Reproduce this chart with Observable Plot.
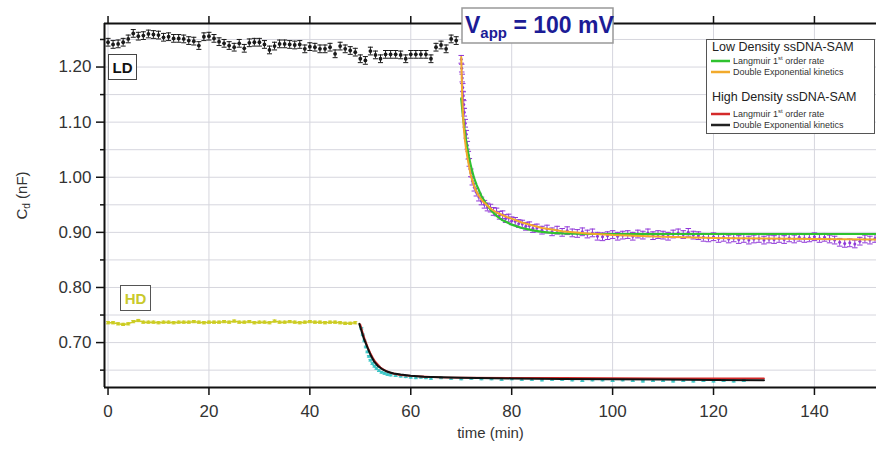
<!DOCTYPE html>
<html><head><meta charset="utf-8">
<script src="https://cdn.jsdelivr.net/npm/d3@7"></script>
<script src="https://cdn.jsdelivr.net/npm/@observablehq/plot@0.6"></script>
<style>
body{margin:0;background:#fff;}
#chart{width:876px;height:449px;}
</style></head><body><div id="chart"></div>
<script>
const FONT = "'Liberation Sans', Arial, sans-serif";
const X_DOMAIN = [-0.7, 152.3];
const Y_DOMAIN = [0.6185, 1.279];
const X_TICKS = [0, 20, 40, 60, 80, 100, 120, 140];
const Y_TICKS = [0.70, 0.80, 0.90, 1.00, 1.10, 1.20];
const Y_MINOR = [0.65, 0.75, 0.85, 0.95, 1.05, 1.15, 1.25];

// Low density, before injection (black)
const ldPreTime = [0,1,2,3,4,5,6,7,8,9,10,11,12,13,14,15,16,17,18,19,20,21,22,23,24,25,26,27,28,29,30,31,32,33,34,35,36,37,38,39,40,41,42,43,44,45,46,47,48,49,50,51,52,53,54,55,56,57,58,59,60,61,62,63,64,65,66,67,68,69];
const ldPreValue = [1.245,1.241,1.242,1.245,1.251,1.261,1.256,1.257,1.260,1.259,1.258,1.254,1.255,1.252,1.252,1.251,1.248,1.247,1.239,1.255,1.256,1.252,1.246,1.243,1.239,1.236,1.243,1.234,1.244,1.245,1.245,1.241,1.231,1.238,1.242,1.242,1.241,1.240,1.241,1.233,1.237,1.236,1.233,1.233,1.236,1.224,1.238,1.233,1.230,1.227,1.215,1.212,1.229,1.222,1.215,1.223,1.223,1.223,1.222,1.215,1.223,1.223,1.223,1.223,1.215,1.236,1.240,1.233,1.251,1.248];
const ldPreErr = 0.007;

// Low density, after injection (purple)
const ldPostTime = [70.0,70.1,70.2,70.3,70.4,70.5,70.6,70.8,71.0,71.2,71.4,71.6,71.9,72.2,72.6,73.0,73.5,74.0,74.6,75.2,75.8,76.4,77.0,77.6,78.2,78.8,79.4,80.0,80.7,81.4,82.1,82.8,83.5,84.2,85.0,86,87,88,89,90,91,92,93,94,95,96,97,98,99,100,101,102,103,104,105,106,107,108,109,110,111,112,113,114,115,116,117,118,119,120,121,122,123,124,125,126,127,128,129,130,131,132,133,134,135,136,137,138,139,140,141,142,143,144,145,146,147,148,149,150,151,152];
const ldPostValue = [1.214,1.198,1.180,1.163,1.148,1.132,1.118,1.098,1.078,1.058,1.040,1.027,1.008,0.993,0.982,0.973,0.964,0.957,0.951,0.946,0.944,0.938,0.937,0.931,0.932,0.925,0.926,0.921,0.920,0.916,0.915,0.911,0.912,0.907,0.908,0.904,0.906,0.901,0.904,0.900,0.903,0.899,0.898,0.901,0.897,0.899,0.893,0.892,0.894,0.896,0.893,0.895,0.896,0.893,0.897,0.895,0.899,0.894,0.896,0.895,0.893,0.897,0.899,0.896,0.900,0.895,0.894,0.891,0.890,0.892,0.889,0.891,0.888,0.890,0.887,0.889,0.886,0.888,0.889,0.886,0.888,0.887,0.889,0.887,0.890,0.888,0.891,0.889,0.890,0.892,0.889,0.891,0.888,0.886,0.882,0.880,0.881,0.879,0.884,0.888,0.886,0.889];
const ldPostErr = 0.007;

// Low density fits
const ldLangmuirTime = [70,70.25,70.5,70.75,71,71.5,72,72.5,73,74,75,76,77,78,80,82,84,86,88,90,95,100,110,120,130,140,152.3];
const ldLangmuirValue = [1.143,1.118,1.098,1.080,1.064,1.038,1.017,1.000,0.987,0.966,0.951,0.939,0.930,0.923,0.914,0.908,0.904,0.901,0.899,0.898,0.897,0.897,0.897,0.897,0.897,0.897,0.897];
const ldDoubleExpTime = [70,70.1,70.2,70.35,70.5,70.7,70.9,71.2,71.5,71.9,72.4,72.9,73.5,74.2,75,76,77,78,79,80,82,84,86,88,90,95,100,110,120,130,140,152.3];
const ldDoubleExpValue = [1.218,1.180,1.143,1.112,1.090,1.070,1.055,1.037,1.022,1.003,0.988,0.976,0.966,0.957,0.950,0.942,0.936,0.932,0.928,0.925,0.918,0.913,0.908,0.905,0.902,0.898,0.895,0.892,0.890,0.889,0.888,0.887];

// High density, before injection (yellow)
const hdPreTime = [0,1,2,3,4,5,6,7,8,9,10,11,12,13,14,15,16,17,18,19,20,21,22,23,24,25,26,27,28,29,30,31,32,33,34,35,36,37,38,39,40,41,42,43,44,45,46,47,48,49];
const hdPreValue = [0.736,0.736,0.734,0.733,0.734,0.738,0.740,0.737,0.737,0.737,0.736,0.737,0.737,0.736,0.737,0.737,0.737,0.738,0.737,0.736,0.737,0.737,0.737,0.738,0.737,0.739,0.737,0.737,0.738,0.736,0.737,0.737,0.736,0.739,0.737,0.737,0.738,0.737,0.736,0.737,0.738,0.737,0.737,0.736,0.737,0.737,0.736,0.735,0.735,0.736];
const hdPreErr = 0.002;

// High density, after injection (cyan)
const hdPostTime = [50.2,50.5,50.8,51.1,51.4,51.7,52.0,52.4,52.8,53.2,53.7,54.2,54.8,55.4,56,57,58,59,60,61,62,63,64,66,68,70,72,74,76,78,80,82,84,86,88,90,92,94,96,98,100,102,104,106,108,110,112,114,116,118,120,122,124,126];
const hdPostValue = [0.726,0.714,0.703,0.692,0.683,0.675,0.668,0.662,0.657,0.653,0.649,0.646,0.644,0.642,0.641,0.640,0.639,0.638,0.637,0.636,0.637,0.636,0.635,0.636,0.635,0.634,0.635,0.634,0.634,0.633,0.634,0.633,0.633,0.632,0.633,0.633,0.632,0.631,0.632,0.632,0.631,0.632,0.631,0.630,0.631,0.631,0.630,0.631,0.630,0.631,0.630,0.631,0.630,0.631];
const hdPostErr = 0.0015;

// High density fits
const hdLangmuirTime = [50,50.5,51,51.5,52,52.5,53,54,55,56,57,58,60,63,66,70,80,90,100,110,120,130];
const hdLangmuirValue = [0.733,0.717,0.703,0.691,0.681,0.672,0.665,0.655,0.649,0.645,0.643,0.641,0.6395,0.638,0.637,0.6365,0.636,0.6357,0.6355,0.6352,0.635,0.635];
const hdDoubleExpTime = [49.8,50.1,50.4,50.7,51.1,51.5,52.1,52.7,53.4,54.3,55.4,56.6,58,60,62.6,66,70,80,90,100,110,120,130];
const hdDoubleExpValue = [0.734,0.725,0.716,0.707,0.698,0.689,0.676,0.666,0.658,0.652,0.647,0.644,0.642,0.640,0.638,0.637,0.636,0.635,0.634,0.6335,0.6328,0.632,0.6315];

const C_BLACK = "#1a1a1a", C_PURPLE = "#9038d8", C_GREEN = "#2fc22f", C_ORANGE = "#f2aa2c",
      C_YELLOW = "#cccc22", C_CYAN = "#3cc6c6", C_RED = "#d42a2a", C_FIT_BLACK = "#111111";

const zip = (t, v, e) => t.map((x, i) => ({t: x, v: v[i], e}));
const ldPre = zip(ldPreTime, ldPreValue, ldPreErr);
const ldPost = zip(ldPostTime, ldPostValue, ldPostErr);
const hdPre = zip(hdPreTime, hdPreValue, hdPreErr);
const hdPost = zip(hdPostTime, hdPostValue, hdPostErr);
const ldLang = zip(ldLangmuirTime, ldLangmuirValue);
const ldDexp = zip(ldDoubleExpTime, ldDoubleExpValue);
const hdLang = zip(hdLangmuirTime, hdLangmuirValue);
const hdDexp = zip(hdDoubleExpTime, hdDoubleExpValue);

function errorBars(data, color, cap, sw) {
  return [
    Plot.ruleX(data, {x: "t", y1: d => d.v - d.e, y2: d => d.v + d.e, stroke: color, strokeWidth: sw}),
    Plot.link(data, {x1: d => d.t - cap, x2: d => d.t + cap, y1: d => d.v + d.e, y2: d => d.v + d.e, stroke: color, strokeWidth: sw}),
    Plot.link(data, {x1: d => d.t - cap, x2: d => d.t + cap, y1: d => d.v - d.e, y2: d => d.v - d.e, stroke: color, strokeWidth: sw})
  ];
}

const plot = Plot.plot({
  width: 876, height: 449,
  marginLeft: 104, marginRight: 0, marginTop: 23, marginBottom: 62,
  style: {fontFamily: FONT, color: "#333", background: "#fff", overflow: "visible"},
  x: {domain: X_DOMAIN},
  y: {domain: Y_DOMAIN},
  marks: [
    Plot.gridY([...Y_TICKS, ...Y_MINOR], {stroke: "#d6d6de", strokeOpacity: 1}),
    Plot.gridX(X_TICKS, {stroke: "#d6d6de", strokeOpacity: 1}),
    // High density
    ...errorBars(hdPre, C_YELLOW, 0.4, 1),
    Plot.dot(hdPre, {x: "t", y: "v", r: 1.4, fill: C_YELLOW}),
    Plot.line(hdPre, {x: "t", y: "v", stroke: C_YELLOW, strokeWidth: 1.5}),
    ...errorBars(hdPost, C_CYAN, 0.4, 1),
    Plot.dot(hdPost, {x: "t", y: "v", r: 1.4, fill: C_CYAN}),
    Plot.line(hdLang, {x: "t", y: "v", stroke: C_RED, strokeWidth: 1.8}),
    Plot.line(hdDexp, {x: "t", y: "v", stroke: C_FIT_BLACK, strokeWidth: 2}),
    // Low density
    ...errorBars(ldPre, C_BLACK, 0.5, 1),
    Plot.dot(ldPre, {x: "t", y: "v", r: 1.9, fill: C_BLACK}),
    ...errorBars(ldPost, C_PURPLE, 0.55, 1),
    Plot.dot(ldPost, {x: "t", y: "v", r: 1.5, fill: C_PURPLE}),
    Plot.line(ldLang, {x: "t", y: "v", stroke: C_GREEN, strokeWidth: 2.2}),
    Plot.line(ldDexp, {x: "t", y: "v", stroke: C_ORANGE, strokeWidth: 2}),
    // frame
    Plot.ruleY([Y_DOMAIN[0]], {stroke: "#111", strokeWidth: 2}),
    Plot.ruleY([Y_DOMAIN[1]], {stroke: "#111", strokeWidth: 2}),
    Plot.ruleX([X_DOMAIN[0]], {stroke: "#111", strokeWidth: 2}),
    // axes
    Plot.axisY({ticks: Y_TICKS, tickSize: 8, tickPadding: 5, tickFormat: d3.format(".2f"), fontSize: 17, label: null, stroke: "#111", strokeWidth: 1.5}),
    Plot.axisY({ticks: Y_MINOR, tickSize: 4, tickFormat: () => "", label: null, stroke: "#111", strokeWidth: 1.5}),
    Plot.axisX({ticks: X_TICKS, tickSize: 8, tickPadding: 9, tickFormat: d => String(d), fontSize: 17, label: null, stroke: "#111", strokeWidth: 1.5}),
    Plot.axisX({anchor: "top", ticks: X_TICKS, tickSize: 8, tickFormat: () => "", label: null, stroke: "#111", strokeWidth: 1.5}),
    Plot.text(["time (min)"], {frameAnchor: "bottom", text: d => d, dy: 50, fontSize: 15, fill: "#333"}),
    Plot.text(["Cd (nF)"], {frameAnchor: "left", text: d => d, rotate: -90, dx: -82, dy: 14, fontSize: 15, fill: "#333"})
  ]
});
document.getElementById("chart").appendChild(plot);

const svg = d3.select(plot);
// subscript on y label
svg.selectAll("text").filter(function(){ return this.textContent === "Cd (nF)"; }).each(function(){
  const t = d3.select(this); t.text(null);
  t.append("tspan").text("C");
  t.append("tspan").attr("font-size", 10).attr("dy", 3).text("d");
  t.append("tspan").attr("dy", -3).text(" (nF)");
});

const ann = svg.append("g").attr("font-family", FONT).attr("text-anchor", "start");
// LD label
ann.append("rect").attr("x", 108.5).attr("y", 54.5).attr("width", 28).attr("height", 25).attr("fill", "#fff").attr("stroke", "#444");
ann.append("text").attr("x", 122.5).attr("y", 73).attr("text-anchor", "middle").attr("font-weight", "bold").attr("font-size", 15).attr("fill", "#111").text("LD");
// HD label
ann.append("rect").attr("x", 120.5).attr("y", 285.5).attr("width", 30).attr("height", 25).attr("fill", "#fff").attr("stroke", "#555");
ann.append("text").attr("x", 135.5).attr("y", 304).attr("text-anchor", "middle").attr("font-weight", "bold").attr("font-size", 15).attr("fill", "#c9c92c").text("HD");
// Vapp
ann.append("rect").attr("x", 462).attr("y", 8).attr("width", 151).attr("height", 35).attr("fill", "#fff").attr("stroke", "#999").attr("stroke-width", 1.5);
const vt = ann.append("text").attr("x", 465).attr("y", 33).attr("font-weight", "bold").attr("fill", "#1c1c96").attr("font-size", 23);
vt.append("tspan").text("V");
vt.append("tspan").attr("font-size", 15).attr("dy", 5).text("app");
vt.append("tspan").attr("dy", -5).text(" = 100 mV");
// Legend
ann.append("rect").attr("x", 706.5).attr("y", 39.5).attr("width", 168).attr("height", 94).attr("fill", "#fff").attr("stroke", "#555");
const legendRows = [
  {type: "title", y: 51, text: "Low Density ssDNA-SAM"},
  {type: "item", y: 61, color: C_GREEN, text: "Langmuir 1", sup: "st", rest: " order rate"},
  {type: "item", y: 72, color: C_ORANGE, text: "Double Exponential kinetics"},
  {type: "title", y: 101, text: "High Density ssDNA-SAM"},
  {type: "item", y: 114, color: C_RED, text: "Langmuir 1", sup: "st", rest: " order rate"},
  {type: "item", y: 125, color: "#222", text: "Double Exponential kinetics"}
];
for (const r of legendRows) {
  if (r.type === "title") {
    ann.append("text").attr("x", 712).attr("y", r.y).attr("font-size", 12.5).attr("fill", "#222").text(r.text);
  } else {
    ann.append("line").attr("x1", 711).attr("x2", 730).attr("y1", r.y).attr("y2", r.y).attr("stroke", r.color).attr("stroke-width", 2.5);
    const t = ann.append("text").attr("x", 733).attr("y", r.y + 3).attr("font-size", 9).attr("fill", "#333");
    t.append("tspan").text(r.text);
    if (r.sup) {
      t.append("tspan").attr("font-size", 6).attr("dy", -4).text(r.sup);
      t.append("tspan").attr("dy", 4).text(r.rest);
    }
  }
}
</script>
</body></html>
